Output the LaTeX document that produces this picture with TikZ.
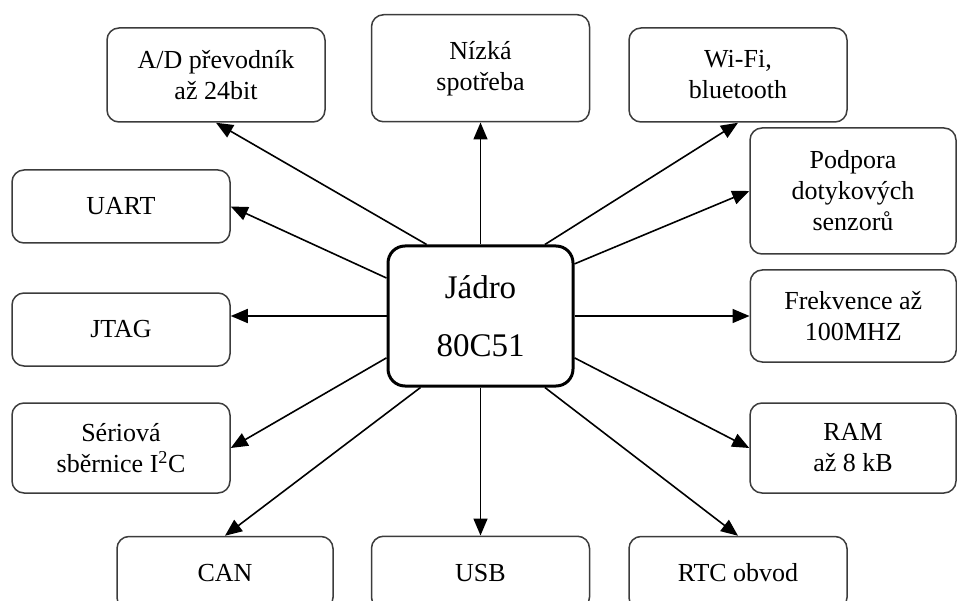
\documentclass[tikz,border=0pt]{standalone}
\usepackage{fontspec}
\setmainfont{Liberation Serif}
\usetikzlibrary{arrows.meta,positioning}
\definecolor{boxgray}{HTML}{3C3C3C}

\begin{document}
\begin{tikzpicture}[
  x=1pt, y=-1pt,
  font=\fontsize{26}{31}\selectfont,
  feature/.style={
    draw=boxgray,
    rounded corners=12pt,
    line width=1.5pt,
    align=center,
    fill=white,
    inner sep=0pt,
    minimum width=218pt,
    minimum height=73pt
  },
  mcu/.style={
    draw=black,
    rounded corners=17pt,
    line width=3pt,
    align=center,
    fill=white,
    minimum width=185pt,
    minimum height=140pt,
    font=\fontsize{33}{58}\selectfont
  },
  arrow/.style={-{Triangle[length=17pt,width=14pt]},line width=1.6pt,draw=black}
]
\useasboundingbox (0,0) rectangle (957,601);
\clip (0,0) rectangle (957,601);

% central core
\node[mcu] (jadro) at (480.5,316) {Jádro\\80C51};

% top row
\node[feature,minimum height=94pt] (ad) at (216,75) {A/D převodník\\až 24bit};
\node[feature,minimum height=107pt,above=122pt of jadro] (nizka) {Nízká\\spotřeba};
\node[feature,minimum height=94pt] (wifi) at (738,75) {Wi-Fi,\\bluetooth};

% right column
\node[feature,minimum width=206pt,minimum height=126pt] (touch) at (853,191) {Podpora\\dotykových\\senzorů};
\node[feature,minimum width=206pt,minimum height=92pt,right=175pt of jadro] (freq) {Frekvence až\\100MHZ};
\node[feature,minimum width=206pt,minimum height=90pt] (ram) at (853,448) {RAM\\až 8 kB};

% left column
\node[feature] (uart) at (121,206.5) {UART};
\node[feature] (jtag) at (121,329.5) {JTAG};
\node[feature,minimum height=90pt] (itwoc) at (121,448) {Sériová\\sběrnice I\textsuperscript{2}C};

% bottom row
\node[feature,minimum width=216pt] (can) at (225,573) {CAN};
\node[feature,below=148pt of jadro] (usb) {USB};
\node[feature] (rtc) at (738,573) {RTC obvod};

\draw[arrow] (jadro.127) -- (ad.south);
\draw[arrow] (jadro.north) -- (nizka.south);
\draw[arrow] (jadro.48) -- (wifi.south);
\draw[arrow] (jadro.29) -- (touch.west);
\draw[arrow] (jadro.east) -- (freq.west);
\draw[arrow] (jadro.-24) -- (ram.west);
\draw[arrow] (jadro.-48) -- (rtc.north);
\draw[arrow] (jadro.south) -- (usb.north);
\draw[arrow] (jadro.230) -- (can.north);
\draw[arrow] (jadro.204) -- (itwoc.east);
\draw[arrow] (jadro.west) -- (jadro.west -| jtag.east);
\draw[arrow] (jadro.158) -- (uart.east);
\end{tikzpicture}
\end{document}
